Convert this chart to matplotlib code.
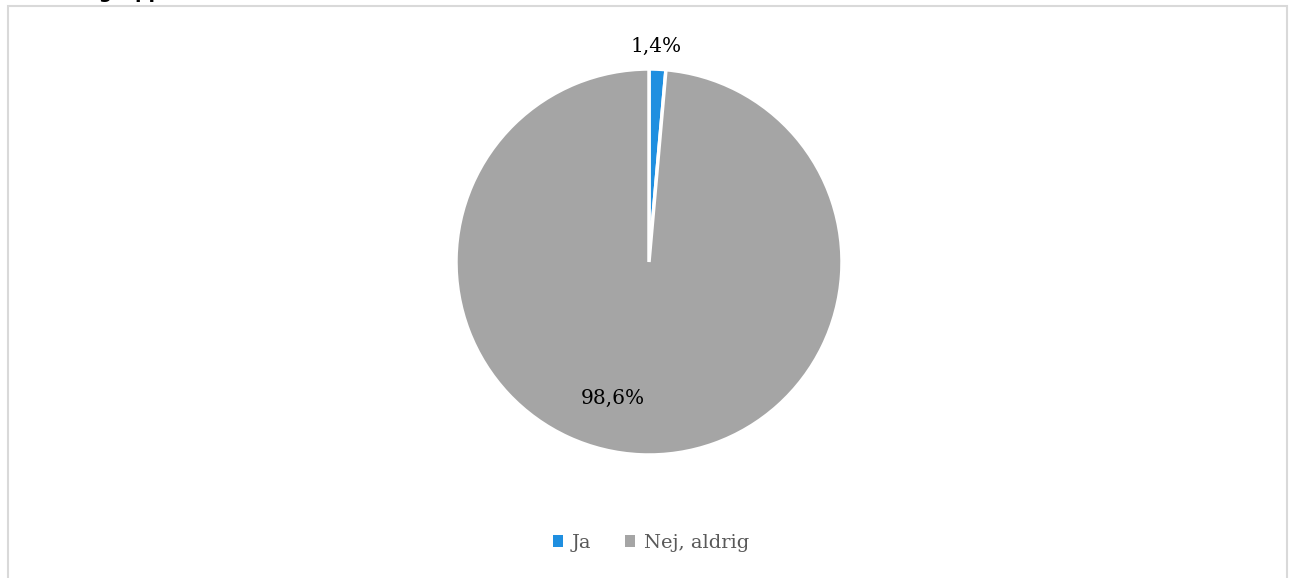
import matplotlib
matplotlib.use("Agg")
import matplotlib.pyplot as plt
from matplotlib.patches import Rectangle, Patch
import numpy as np

categories = ["Ja", "Nej, aldrig"]
values = [1.4, 98.6]
value_labels = ["1,4%", "98,6%"]
colors = ["#1F8FE0", "#A5A5A5"]
title = "Aldersgruppe"

W, H = 1293, 578
fig = plt.figure(figsize=(W / 100, H / 100), dpi=100)
ax = fig.add_axes([0, 0, 1, 1])

cx, cy, r = 649, H - 262, 193
wedges, _ = ax.pie(values, colors=colors, startangle=90, counterclock=False,
                   center=(cx, cy), radius=r, frame=True,
                   wedgeprops=dict(edgecolor="white", linewidth=2.5))
ax.set_xlim(0, W)
ax.set_ylim(0, H)
ax.set_aspect("equal")
ax.axis("off")

# chart frame
ax.add_patch(Rectangle((7.5, -10), 1279, H - 5.5 + 10, fill=False,
                       edgecolor="#D9D9D9", linewidth=1.5, clip_on=False))

# label placements (angle in degrees, distance relative to radius)
label_pos = [(88.0, 1.12), (-104.8, 0.73)]
for (ang, dist), lab in zip(label_pos, value_labels):
    a = np.deg2rad(ang)
    ax.text(cx + dist * r * np.cos(a), cy + dist * r * np.sin(a), lab,
            ha="center", va="center", fontsize=14.5, family="DejaVu Serif",
            color="#000000")

# cut-off title at top
fig.text(32 / W, 1 + 1.5 / H, title, ha="left", va="baseline", fontsize=13.5,
         fontweight="bold", family="DejaVu Sans", color="#000000")

handles = [Patch(facecolor=c, edgecolor="none") for c in colors]
leg = fig.legend(handles, categories, loc="center", bbox_to_anchor=(651 / W, 1 - 543 / H),
                 ncol=2, frameon=False, handlelength=0.55, handleheight=0.55,
                 handletextpad=0.45, columnspacing=1.7,
                 prop=dict(family="DejaVu Serif", size=14))
for t in leg.get_texts():
    t.set_color("#595959")

fig.savefig("out.png", dpi=100)
